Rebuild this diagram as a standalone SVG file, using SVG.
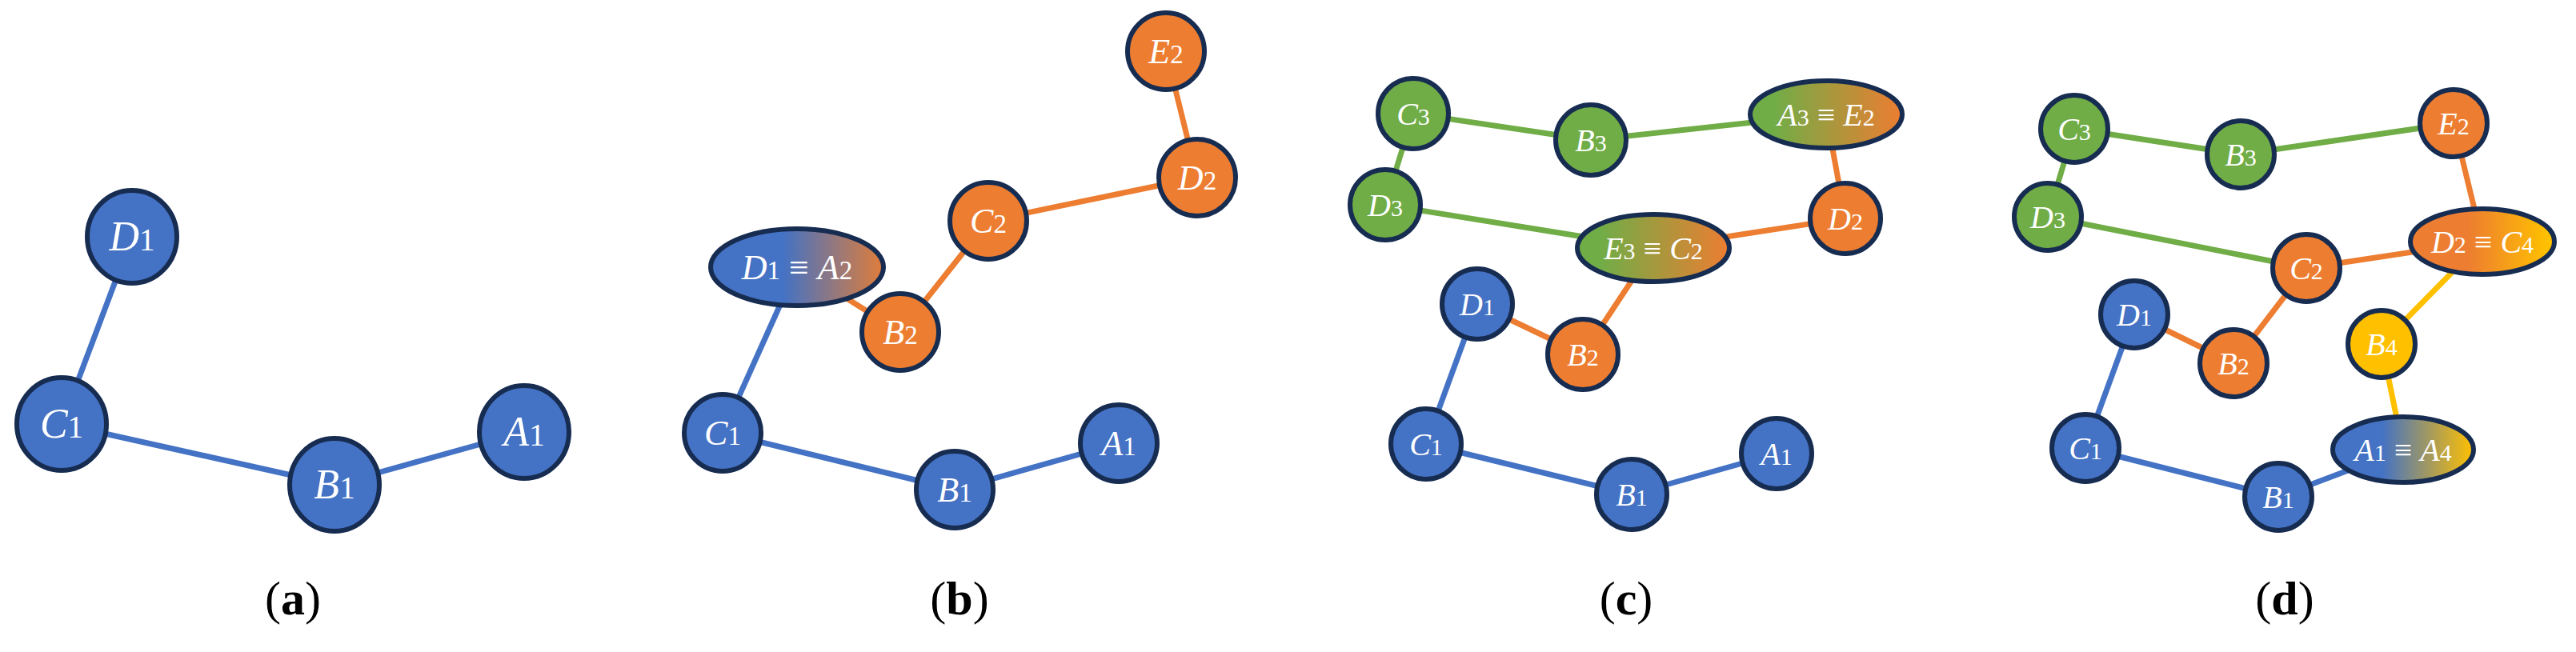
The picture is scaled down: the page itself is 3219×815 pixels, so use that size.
<svg xmlns="http://www.w3.org/2000/svg" width="3219" height="815" viewBox="0 0 3219 815">
<defs>
<style>
.n{stroke:#172C51;stroke-width:6}
.bl{fill:#4472C4}.or{fill:#ED7D31}.gr{fill:#70AD47}.ye{fill:#FFC000}
.e{stroke-width:7;fill:none}
.eb{stroke:#4472C4}.eo{stroke:#ED7D31}.eg{stroke:#70AD47}.ey{stroke:#FFC000}
text.t{font-family:"Liberation Serif",serif;fill:#fff;text-anchor:middle;font-style:italic}
.s{font-style:normal;font-size:75%}
.cap{font-family:"Liberation Serif",serif;font-size:60px;text-anchor:middle;fill:#000}
</style>
<linearGradient id="gBO" x1="0" x2="1" y1="0" y2="0"><stop offset="0.42" stop-color="#4472C4"/><stop offset="1" stop-color="#E07D3A"/></linearGradient>
<linearGradient id="gGO" x1="0" x2="1" y1="0" y2="0"><stop offset="0.15" stop-color="#70AD47"/><stop offset="1" stop-color="#ED7D31"/></linearGradient>
<linearGradient id="gOY" x1="0" x2="1" y1="0" y2="0"><stop offset="0.4" stop-color="#ED7D31"/><stop offset="0.95" stop-color="#FFC000"/></linearGradient>
<linearGradient id="gBY" x1="0" x2="1" y1="0" y2="0"><stop offset="0.35" stop-color="#4472C4"/><stop offset="1" stop-color="#FFC000"/></linearGradient>
</defs>
<rect width="3219" height="815" fill="#fff"/>
<g id="connectors">
<line class="e eb" x1="165" y1="296" x2="77" y2="530"/>
<line class="e eb" x1="77" y1="530" x2="418" y2="606"/>
<line class="e eb" x1="418" y1="606" x2="655" y2="540"/>
<line class="e eb" x1="996" y1="334" x2="903" y2="541"/>
<line class="e eb" x1="903" y1="541" x2="1193" y2="612"/>
<line class="e eb" x1="1193" y1="612" x2="1398" y2="554"/>
<line class="e eo" x1="996" y1="334" x2="1125" y2="415"/>
<line class="e eo" x1="1125" y1="415" x2="1235" y2="276"/>
<line class="e eo" x1="1235" y1="276" x2="1496" y2="222"/>
<line class="e eo" x1="1496" y1="222" x2="1457" y2="64"/>
<line class="e eg" x1="1766" y1="142" x2="1988" y2="175"/>
<line class="e eg" x1="1988" y1="175" x2="2282" y2="143"/>
<line class="e eg" x1="1766" y1="142" x2="1731" y2="256"/>
<line class="e eg" x1="1731" y1="256" x2="2066" y2="310"/>
<line class="e eo" x1="2282" y1="143" x2="2306" y2="273"/>
<line class="e eo" x1="2306" y1="273" x2="2066" y2="310"/>
<line class="e eo" x1="2066" y1="310" x2="1978" y2="443"/>
<line class="e eo" x1="1978" y1="443" x2="1846" y2="380"/>
<line class="e eb" x1="1846" y1="380" x2="1782" y2="555"/>
<line class="e eb" x1="1782" y1="555" x2="2039" y2="618"/>
<line class="e eb" x1="2039" y1="618" x2="2220" y2="567"/>
<line class="e eg" x1="2592" y1="161" x2="2800" y2="193"/>
<line class="e eg" x1="2800" y1="193" x2="3066" y2="154"/>
<line class="e eg" x1="2592" y1="161" x2="2559" y2="271"/>
<line class="e eg" x1="2559" y1="271" x2="2882" y2="335"/>
<line class="e eo" x1="3066" y1="154" x2="3102" y2="302"/>
<line class="e eo" x1="3102" y1="302" x2="2882" y2="335"/>
<line class="e eo" x1="2882" y1="335" x2="2791" y2="454"/>
<line class="e eo" x1="2791" y1="454" x2="2667" y2="393"/>
<line class="e ey" x1="3102" y1="302" x2="2976" y2="430"/>
<line class="e ey" x1="2976" y1="430" x2="3003" y2="562"/>
<line class="e eb" x1="2667" y1="393" x2="2606" y2="560"/>
<line class="e eb" x1="2606" y1="560" x2="2847" y2="621"/>
<line class="e eb" x1="2847" y1="621" x2="3003" y2="562"/>
</g>
<g id="a-D1"><ellipse class="n bl" cx="165" cy="296" rx="56" ry="58"/><text class="t" x="165" y="313" font-size="52">D<tspan class="s">1</tspan></text></g>
<g id="a-C1"><ellipse class="n bl" cx="77" cy="530" rx="56" ry="58"/><text class="t" x="77" y="547" font-size="52">C<tspan class="s">1</tspan></text></g>
<g id="a-B1"><ellipse class="n bl" cx="418" cy="606" rx="56" ry="58"/><text class="t" x="418" y="623" font-size="52">B<tspan class="s">1</tspan></text></g>
<g id="a-A1"><ellipse class="n bl" cx="655" cy="540" rx="56" ry="58"/><text class="t" x="655" y="557" font-size="52">A<tspan class="s">1</tspan></text></g>
<text class="cap" x="366" y="768">(<tspan font-weight="bold">a</tspan>)</text>

<g id="b-D1A2"><ellipse class="n" fill="url(#gBO)" cx="996" cy="334" rx="108" ry="48"/><text class="t" x="996" y="349" font-size="44">D<tspan class="s">1</tspan><tspan font-style="normal"> ≡ </tspan>A<tspan class="s">2</tspan></text></g>
<g id="b-B2"><circle class="n or" cx="1125" cy="415" r="48"/><text class="t" x="1125" y="430" font-size="44">B<tspan class="s">2</tspan></text></g>
<g id="b-C2"><circle class="n or" cx="1235" cy="276" r="48"/><text class="t" x="1235" y="291" font-size="44">C<tspan class="s">2</tspan></text></g>
<g id="b-D2"><circle class="n or" cx="1496" cy="222" r="48"/><text class="t" x="1496" y="237" font-size="44">D<tspan class="s">2</tspan></text></g>
<g id="b-E2"><circle class="n or" cx="1457" cy="64" r="48"/><text class="t" x="1457" y="79" font-size="44">E<tspan class="s">2</tspan></text></g>
<g id="b-C1"><circle class="n bl" cx="903" cy="541" r="48"/><text class="t" x="903" y="556" font-size="44">C<tspan class="s">1</tspan></text></g>
<g id="b-B1"><circle class="n bl" cx="1193" cy="612" r="48"/><text class="t" x="1193" y="627" font-size="44">B<tspan class="s">1</tspan></text></g>
<g id="b-A1"><circle class="n bl" cx="1398" cy="554" r="48"/><text class="t" x="1398" y="569" font-size="44">A<tspan class="s">1</tspan></text></g>
<text class="cap" x="1199" y="768">(<tspan font-weight="bold">b</tspan>)</text>

<g id="c-C3"><circle class="n gr" cx="1766" cy="142" r="44"/><text class="t" x="1766" y="156" font-size="40">C<tspan class="s">3</tspan></text></g>
<g id="c-B3"><circle class="n gr" cx="1988" cy="175" r="44"/><text class="t" x="1988" y="189" font-size="40">B<tspan class="s">3</tspan></text></g>
<g id="c-A3E2"><ellipse class="n" fill="url(#gGO)" cx="2282" cy="143" rx="95" ry="42"/><text class="t" x="2282" y="157" font-size="40">A<tspan class="s">3</tspan><tspan font-style="normal"> ≡ </tspan>E<tspan class="s">2</tspan></text></g>
<g id="c-D3"><circle class="n gr" cx="1731" cy="256" r="44"/><text class="t" x="1731" y="270" font-size="40">D<tspan class="s">3</tspan></text></g>
<g id="c-E3C2"><ellipse class="n" fill="url(#gGO)" cx="2066" cy="310" rx="95" ry="42"/><text class="t" x="2066" y="324" font-size="40">E<tspan class="s">3</tspan><tspan font-style="normal"> ≡ </tspan>C<tspan class="s">2</tspan></text></g>
<g id="c-D2"><circle class="n or" cx="2306" cy="273" r="44"/><text class="t" x="2306" y="287" font-size="40">D<tspan class="s">2</tspan></text></g>
<g id="c-D1"><circle class="n bl" cx="1846" cy="380" r="44"/><text class="t" x="1846" y="394" font-size="40">D<tspan class="s">1</tspan></text></g>
<g id="c-B2"><circle class="n or" cx="1978" cy="443" r="44"/><text class="t" x="1978" y="457" font-size="40">B<tspan class="s">2</tspan></text></g>
<g id="c-C1"><circle class="n bl" cx="1782" cy="555" r="44"/><text class="t" x="1782" y="569" font-size="40">C<tspan class="s">1</tspan></text></g>
<g id="c-B1"><circle class="n bl" cx="2039" cy="618" r="44"/><text class="t" x="2039" y="632" font-size="40">B<tspan class="s">1</tspan></text></g>
<g id="c-A1"><circle class="n bl" cx="2220" cy="567" r="44"/><text class="t" x="2220" y="581" font-size="40">A<tspan class="s">1</tspan></text></g>
<text class="cap" x="2032" y="768">(<tspan font-weight="bold">c</tspan>)</text>

<g id="d-C3"><circle class="n gr" cx="2592" cy="161" r="42"/><text class="t" x="2592" y="175" font-size="40">C<tspan class="s">3</tspan></text></g>
<g id="d-B3"><circle class="n gr" cx="2800" cy="193" r="42"/><text class="t" x="2800" y="207" font-size="40">B<tspan class="s">3</tspan></text></g>
<g id="d-E2"><circle class="n or" cx="3066" cy="154" r="42"/><text class="t" x="3066" y="168" font-size="40">E<tspan class="s">2</tspan></text></g>
<g id="d-D3"><circle class="n gr" cx="2559" cy="271" r="42"/><text class="t" x="2559" y="285" font-size="40">D<tspan class="s">3</tspan></text></g>
<g id="d-C2"><circle class="n or" cx="2882" cy="335" r="42"/><text class="t" x="2882" y="349" font-size="40">C<tspan class="s">2</tspan></text></g>
<g id="d-D2C4"><ellipse class="n" fill="url(#gOY)" cx="3102" cy="302" rx="90" ry="41"/><text class="t" x="3102" y="316" font-size="40">D<tspan class="s">2</tspan><tspan font-style="normal"> ≡ </tspan>C<tspan class="s">4</tspan></text></g>
<g id="d-D1"><circle class="n bl" cx="2667" cy="393" r="42"/><text class="t" x="2667" y="407" font-size="40">D<tspan class="s">1</tspan></text></g>
<g id="d-B2"><circle class="n or" cx="2791" cy="454" r="42"/><text class="t" x="2791" y="468" font-size="40">B<tspan class="s">2</tspan></text></g>
<g id="d-B4"><circle class="n ye" cx="2976" cy="430" r="42"/><text class="t" x="2976" y="444" font-size="40">B<tspan class="s">4</tspan></text></g>
<g id="d-C1"><circle class="n bl" cx="2606" cy="560" r="42"/><text class="t" x="2606" y="574" font-size="40">C<tspan class="s">1</tspan></text></g>
<g id="d-B1"><circle class="n bl" cx="2847" cy="621" r="42"/><text class="t" x="2847" y="635" font-size="40">B<tspan class="s">1</tspan></text></g>
<g id="d-A1A4"><ellipse class="n" fill="url(#gBY)" cx="3003" cy="562" rx="88" ry="41"/><text class="t" x="3003" y="576" font-size="40">A<tspan class="s">1</tspan><tspan font-style="normal"> ≡ </tspan>A<tspan class="s">4</tspan></text></g>
<text class="cap" x="2855" y="768">(<tspan font-weight="bold">d</tspan>)</text>
</svg>
